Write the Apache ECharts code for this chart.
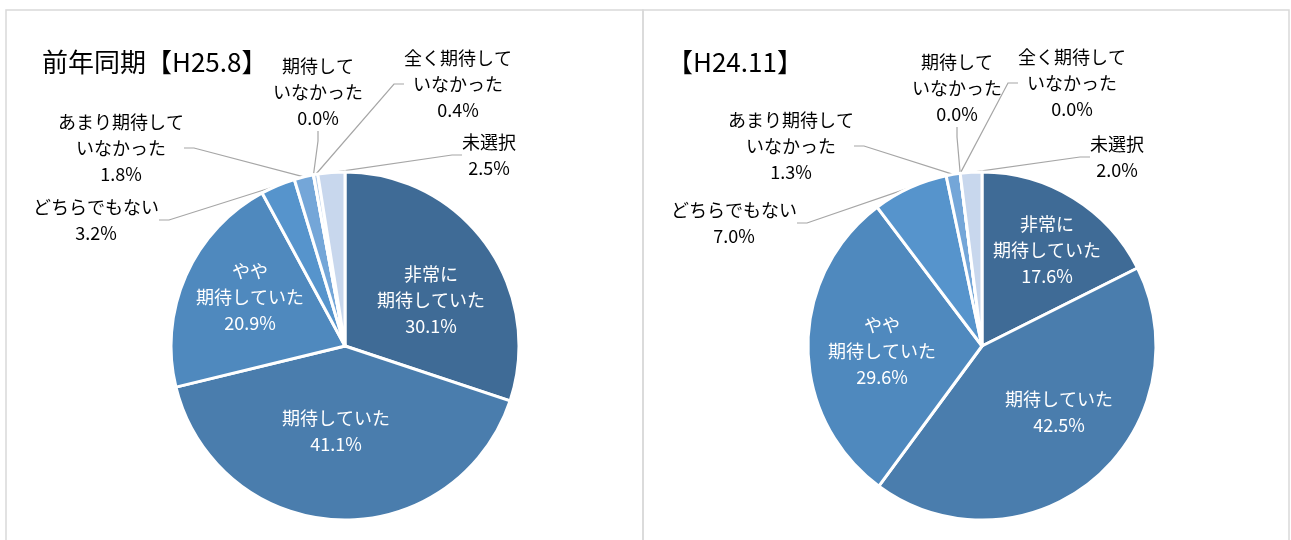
<!DOCTYPE html>
<html>
<head>
<meta charset="utf-8">
<script src="https://cdn.jsdelivr.net/npm/echarts@6/dist/echarts.min.js"></script>
<style>
  html, body { margin: 0; padding: 0; background: #fff; }
  #chart { width: 1291px; height: 540px; }
</style>
</head>
<body>
<div id="chart"></div>
<script>
const categories = [
  "非常に\n期待していた",
  "期待していた",
  "やや\n期待していた",
  "どちらでもない",
  "あまり期待して\nいなかった",
  "期待して\nいなかった",
  "全く期待して\nいなかった",
  "未選択",
];
const titles = ["前年同期【H25.8】", "【H24.11】"];
const valuesH25 = [30.1, 41.1, 20.9, 3.2, 1.8, 0.0, 0.4, 2.5];
const valuesH24 = [17.6, 42.5, 29.6, 7.0, 1.3, 0.0, 0.0, 2.0];

const colors = ["#3F6B96", "#4A7DAD", "#4F89BE", "#5694CC", "#74A6D8", "#9DBDE3", "#B4CCE9", "#C8D7ED"];
const insideCount = 3;

// label centres, per pie, per slice
const labelPos = [
  [[431, 300], [336, 431], [250, 297], [96, 220], [121, 148], [318, 92], [458, 84], [489, 155]],
  [[1047, 250], [1059, 412], [882, 351], [734, 223], [791, 146], [957, 88], [1072, 83], [1117, 157]],
];

const chart = echarts.init(document.getElementById("chart"));

function makeData(values) {
  return categories.map((name, i) => ({
    name: name,
    value: values[i],
    itemStyle: { color: colors[i] },
    label: i < insideCount
      ? { position: "inside", color: "#fff" }
      : { position: "outside", color: "#000" },
    labelLine: { show: i >= insideCount },
  }));
}

function makeSeries(values, center) {
  return {
    type: "pie",
    center: center,
    radius: 174,
    startAngle: 90,
    clockwise: true,
    avoidLabelOverlap: false,
    animation: false,
    itemStyle: { borderColor: "#fff", borderWidth: 3 },
    label: {
      fontFamily: "Noto Sans CJK JP",
      fontSize: 18,
      lineHeight: 26,
      align: "center",
      formatter: (p) => p.name + "\n" + p.value.toFixed(1) + "%",
    },
    labelLine: {
      lineStyle: { color: "#A6A6A6", width: 1.2 },
      length: 10,
      length2: 10,
    },
    emphasis: { disabled: true },
    labelLayout: (params) => {
      const pos = labelPos[params.seriesIndex][params.dataIndex];
      return { x: pos[0], y: pos[1], align: "center", verticalAlign: "middle" };
    },
    data: makeData(values),
  };
}

const option = {
  backgroundColor: "#fff",
  graphic: [
    { type: "rect", shape: { x: 6, y: 10, width: 637, height: 560 }, style: { fill: "none", stroke: "#D9D9D9", lineWidth: 1.5 } },
    { type: "rect", shape: { x: 643, y: 10, width: 646, height: 560 }, style: { fill: "none", stroke: "#D9D9D9", lineWidth: 1.5 } },
  ],
  title: [
    { text: titles[0], left: 37, top: 44, textStyle: { fontFamily: "Noto Sans CJK JP", fontSize: 26, fontWeight: "normal", color: "#000" } },
    { text: titles[1], left: 662, top: 44, textStyle: { fontFamily: "Noto Sans CJK JP", fontSize: 26, fontWeight: "normal", color: "#000" } },
  ],
  series: [
    makeSeries(valuesH25, [345, 346]),
    makeSeries(valuesH24, [982, 346]),
  ],
};

chart.setOption(option);
</script>
</body>
</html>
